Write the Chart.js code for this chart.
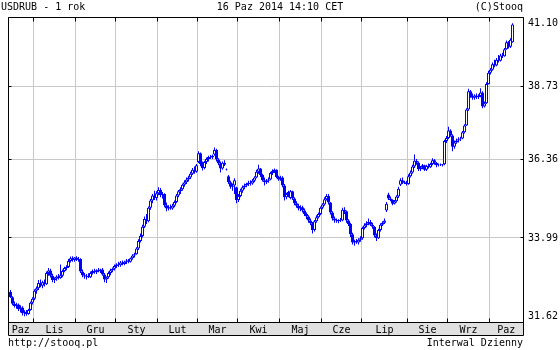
<!DOCTYPE html>
<html>
<head>
<meta charset="utf-8">
<script src="https://cdn.jsdelivr.net/npm/chart.js@4/dist/chart.umd.min.js"></script>
<style>
body { margin: 0; background: #fff; }
#wrap { position: relative; width: 560px; height: 350px; font: 10px 'DejaVu Sans Mono', monospace; color: #000; }
#wrap canvas { position: absolute; left: 0; top: 0; }
.t { position: absolute; white-space: pre; line-height: 12px; }
</style>
</head>
<body>
<div id="wrap">
  <canvas id="chart" width="560" height="350"></canvas>
  <div class="t" style="left:1px;top:1px">USDRUB - 1 rok</div>
  <div class="t" style="left:0;width:560px;text-align:center;top:1px">16 Paz 2014 14:10 CET</div>
  <div class="t" style="right:37px;top:1px">(C)Stooq</div>
  <div class="t" style="left:8px;top:337px">http://stooq.pl</div>
  <div class="t" style="right:37px;top:337px">Interwal Dzienny</div>
</div>
<script>
// month labels and where each month starts (trading-day index)
const monthNames = ['Paz', 'Lis', 'Gru', 'Sty', 'Lut', 'Mar', 'Kwi', 'Maj', 'Cze', 'Lip', 'Sie', 'Wrz', 'Paz'];
const monthStarts = [11.5, 32.5, 52.5, 73.5, 93.5, 113.5, 134.5, 155.5, 175.5, 198.5, 218.5, 239.5];
const yTicks = [31.62, 33.99, 36.36, 38.73, 41.10];

// daily USDRUB candles, Oct 2013 - Oct 2014
const open = [
    32.45, 32.30, 32.12, 32.06, 32.10, 31.97, 32.02, 31.86, 31.90, 31.84, 31.95, 32.15,
    32.26, 32.48, 32.55, 32.70, 32.62, 32.72, 32.66, 32.98, 33.05, 32.90, 32.78, 32.82, 32.88, 32.84, 32.90, 33.04, 33.12, 33.15, 33.32, 33.40, 33.35,
    33.42, 33.36, 33.38, 33.02, 32.92, 32.88, 32.90, 32.86, 32.98, 33.04, 33.00, 33.06, 33.03, 33.08, 32.94, 32.80, 32.86, 32.98, 33.06, 33.10,
    33.18, 33.22, 33.20, 33.28, 33.24, 33.30, 33.34, 33.30, 33.40, 33.48, 33.52, 33.68, 33.90, 34.05, 34.32, 34.55, 34.48, 34.88, 35.10, 35.25, 35.18,
    35.32, 35.42, 35.26, 35.30, 34.96, 34.86, 34.90, 34.86, 34.94, 35.06, 35.25, 35.38, 35.44, 35.58, 35.66, 35.74, 35.80, 35.92, 36.04, 35.98,
    36.28, 36.56, 36.22, 36.10, 36.28, 36.38, 36.44, 36.42, 36.52, 36.66, 36.36, 36.24, 36.08, 36.26, 36.06, 35.84, 35.66, 35.52, 35.56, 35.50,
    35.12, 35.24, 35.40, 35.50, 35.56, 35.60, 35.64, 35.62, 35.70, 35.80, 35.98, 36.08, 35.88, 35.72, 35.66, 35.70, 35.74, 35.94, 36.00, 36.04, 35.82,
    35.74, 35.80, 35.56, 35.20, 35.30, 35.18, 35.38, 35.16, 35.02, 34.94, 34.86, 34.90, 34.80, 34.70, 34.62, 34.50, 34.42, 34.22, 34.48, 34.60, 34.70,
    34.88, 34.98, 35.14, 35.24, 35.04, 34.74, 34.56, 34.50, 34.48, 34.52, 34.50, 34.82, 34.78, 34.50, 34.40, 34.10, 33.86, 33.90, 33.86, 33.94,
    33.98, 34.28, 34.36, 34.42, 34.46, 34.38, 34.32, 34.06, 33.98, 34.22, 34.38, 34.44, 34.80, 35.28, 35.16, 35.12, 35.00, 35.08, 35.22, 35.58, 35.72, 35.64, 35.66,
    35.60, 35.84, 35.96, 36.14, 36.32, 36.26, 36.06, 36.12, 36.18, 36.04, 36.16, 36.12, 36.22, 36.34, 36.26, 36.18, 36.20, 36.18, 36.21, 36.94,
    37.04, 37.28, 37.12, 36.76, 36.90, 36.96, 37.00, 37.02, 37.22, 37.44, 37.96, 38.56, 38.40, 38.34, 38.42, 38.36, 38.40, 38.52, 38.06, 38.16, 38.80,
    39.18, 39.28, 39.46, 39.42, 39.62, 39.58, 39.76, 39.74, 39.98, 40.22, 40.06, 40.22
];
const high = [
    32.50, 32.33, 32.18, 32.15, 32.13, 32.08, 32.05, 31.94, 31.95, 31.98, 32.18, 32.30,
    32.52, 32.60, 32.78, 32.80, 32.76, 32.80, 33.02, 33.12, 33.10, 32.96, 32.86, 32.92, 32.95, 33.22, 33.08, 33.16, 33.20, 33.38, 33.45, 33.46, 33.44,
    33.46, 33.44, 33.40, 33.08, 32.98, 32.95, 32.97, 33.02, 33.08, 33.10, 33.09, 33.12, 33.10, 33.12, 32.98, 32.88, 33.02, 33.10, 33.14, 33.22,
    33.26, 33.30, 33.32, 33.34, 33.33, 33.38, 33.38, 33.42, 33.52, 33.56, 33.72, 33.95, 34.12, 34.38, 34.62, 34.70, 34.92, 35.15, 35.30, 35.40, 35.38,
    35.50, 35.48, 35.36, 35.32, 35.04, 34.96, 34.98, 35.00, 35.10, 35.30, 35.42, 35.50, 35.62, 35.72, 35.80, 35.86, 35.98, 36.10, 36.14, 36.22,
    36.62, 36.58, 36.30, 36.32, 36.42, 36.48, 36.50, 36.52, 36.74, 36.70, 36.40, 36.30, 36.30, 36.34, 36.08, 35.88, 35.70, 35.62, 35.78, 35.52,
    35.30, 35.46, 35.56, 35.62, 35.64, 35.70, 35.72, 35.76, 35.84, 36.04, 36.20, 36.10, 35.92, 35.80, 35.76, 35.80, 35.98, 36.06, 36.08, 36.06, 35.86,
    35.86, 35.84, 35.60, 35.34, 35.40, 35.42, 35.40, 35.20, 35.08, 35.00, 34.96, 34.94, 34.86, 34.74, 34.66, 34.56, 34.46, 34.52, 34.66, 34.74, 34.92,
    35.02, 35.20, 35.30, 35.30, 35.06, 34.78, 34.62, 34.56, 34.54, 34.58, 34.88, 34.90, 34.80, 34.54, 34.44, 34.14, 33.94, 33.96, 33.98, 34.04,
    34.32, 34.42, 34.48, 34.56, 34.52, 34.44, 34.34, 34.12, 34.26, 34.42, 34.48, 34.56, 35.06, 35.34, 35.22, 35.14, 35.12, 35.26, 35.52, 35.78, 35.80, 35.70, 35.70,
    35.90, 36.02, 36.20, 36.52, 36.38, 36.30, 36.16, 36.22, 36.20, 36.20, 36.24, 36.26, 36.40, 36.38, 36.28, 36.24, 36.24, 36.22, 36.98, 37.10,
    37.40, 37.32, 37.16, 36.96, 37.02, 37.06, 37.08, 37.26, 37.48, 38.00, 38.64, 38.60, 38.48, 38.46, 38.48, 38.46, 38.66, 38.56, 38.22, 38.86, 39.24,
    39.34, 39.52, 39.62, 39.68, 39.78, 39.82, 39.86, 40.02, 40.28, 40.26, 40.36, 40.88
];
const low = [
    32.28, 32.08, 32.02, 31.98, 31.92, 31.88, 31.80, 31.78, 31.79, 31.82, 31.93, 32.10,
    32.22, 32.40, 32.50, 32.58, 32.55, 32.60, 32.64, 32.90, 32.85, 32.72, 32.70, 32.76, 32.80, 32.82, 32.86, 33.00, 33.06, 33.12, 33.28, 33.30, 33.30,
    33.32, 33.30, 32.98, 32.86, 32.82, 32.80, 32.84, 32.84, 32.94, 32.96, 32.95, 33.00, 32.98, 32.90, 32.72, 32.70, 32.82, 32.92, 33.00, 33.05,
    33.12, 33.15, 33.16, 33.20, 33.20, 33.24, 33.26, 33.28, 33.36, 33.42, 33.50, 33.64, 33.86, 34.00, 34.28, 34.40, 34.45, 34.82, 35.02, 35.12, 35.10,
    35.26, 35.20, 35.16, 34.90, 34.78, 34.80, 34.82, 34.82, 34.90, 35.02, 35.20, 35.30, 35.40, 35.52, 35.60, 35.68, 35.76, 35.88, 35.92, 35.95,
    36.25, 36.15, 36.02, 36.06, 36.22, 36.30, 36.38, 36.38, 36.48, 36.30, 36.18, 35.96, 36.04, 36.16, 36.02, 35.60, 35.46, 35.40, 35.30, 35.02,
    35.06, 35.20, 35.34, 35.44, 35.50, 35.54, 35.56, 35.58, 35.66, 35.78, 35.92, 35.82, 35.68, 35.56, 35.60, 35.64, 35.72, 35.88, 35.94, 35.78, 35.70,
    35.70, 35.50, 35.10, 35.14, 35.20, 35.14, 35.12, 34.96, 34.88, 34.80, 34.78, 34.74, 34.64, 34.54, 34.44, 34.36, 34.12, 34.18, 34.44, 34.56, 34.66,
    34.84, 34.94, 35.10, 34.98, 34.68, 34.50, 34.44, 34.44, 34.42, 34.46, 34.48, 34.70, 34.44, 34.34, 34.02, 33.80, 33.76, 33.82, 33.80, 33.88,
    33.94, 34.24, 34.30, 34.36, 34.34, 34.26, 34.00, 33.90, 33.96, 34.18, 34.34, 34.40, 34.76, 35.12, 35.08, 34.96, 34.98, 35.04, 35.18, 35.54, 35.60, 35.60, 35.56,
    35.58, 35.80, 35.92, 36.10, 36.20, 36.00, 36.00, 36.06, 36.00, 36.00, 36.08, 36.10, 36.18, 36.20, 36.12, 36.14, 36.16, 36.14, 36.18, 36.88,
    37.00, 37.08, 36.62, 36.70, 36.86, 36.90, 36.94, 37.00, 37.18, 37.42, 37.92, 38.34, 38.28, 38.28, 38.30, 38.30, 38.36, 38.00, 38.02, 38.14, 38.78,
    39.12, 39.24, 39.36, 39.40, 39.52, 39.56, 39.68, 39.72, 39.96, 40.00, 40.02, 40.20
];
const close = [
    32.30, 32.12, 32.06, 32.10, 31.97, 32.02, 31.86, 31.90, 31.84, 31.95, 32.15, 32.26,
    32.48, 32.55, 32.70, 32.62, 32.72, 32.66, 32.98, 33.05, 32.90, 32.78, 32.82, 32.88, 32.84, 32.92, 33.04, 33.12, 33.15, 33.32, 33.40, 33.35, 33.42,
    33.36, 33.38, 33.02, 32.92, 32.88, 32.90, 32.86, 32.98, 33.04, 33.00, 33.06, 33.03, 33.08, 32.94, 32.80, 32.86, 32.98, 33.06, 33.10, 33.18,
    33.22, 33.20, 33.28, 33.24, 33.30, 33.34, 33.30, 33.40, 33.48, 33.52, 33.68, 33.90, 34.05, 34.32, 34.55, 34.48, 34.88, 35.10, 35.25, 35.18, 35.32,
    35.42, 35.26, 35.30, 34.96, 34.86, 34.90, 34.86, 34.94, 35.06, 35.25, 35.38, 35.44, 35.58, 35.66, 35.74, 35.80, 35.92, 36.04, 35.98, 36.18,
    36.56, 36.22, 36.10, 36.28, 36.38, 36.44, 36.42, 36.48, 36.66, 36.36, 36.24, 36.08, 36.26, 36.20, 36.04, 35.66, 35.52, 35.56, 35.72, 35.12,
    35.24, 35.40, 35.50, 35.56, 35.60, 35.64, 35.62, 35.70, 35.80, 35.98, 36.08, 35.88, 35.72, 35.66, 35.70, 35.74, 35.94, 36.00, 36.04, 35.82, 35.74,
    35.80, 35.56, 35.20, 35.30, 35.36, 35.38, 35.16, 35.02, 34.94, 34.86, 34.90, 34.80, 34.70, 34.62, 34.50, 34.42, 34.22, 34.48, 34.60, 34.70, 34.88,
    34.98, 35.14, 35.24, 35.04, 34.74, 34.56, 34.50, 34.48, 34.52, 34.50, 34.82, 34.78, 34.50, 34.40, 34.10, 33.86, 33.90, 33.86, 33.94, 33.98,
    34.28, 34.36, 34.42, 34.46, 34.38, 34.32, 34.06, 33.98, 34.22, 34.38, 34.44, 34.50, 35.00, 35.16, 35.12, 35.00, 35.08, 35.22, 35.46, 35.72, 35.64, 35.66, 35.60,
    35.84, 35.96, 36.14, 36.32, 36.26, 36.06, 36.12, 36.18, 36.04, 36.16, 36.12, 36.22, 36.34, 36.26, 36.18, 36.20, 36.18, 36.21, 36.94, 37.04,
    37.28, 37.12, 36.76, 36.90, 36.96, 37.00, 37.02, 37.22, 37.44, 37.96, 38.56, 38.40, 38.34, 38.42, 38.36, 38.40, 38.52, 38.06, 38.16, 38.80, 39.18,
    39.28, 39.46, 39.42, 39.62, 39.58, 39.76, 39.74, 39.98, 40.22, 40.06, 40.30, 40.84
];

const BLUE = '#0000ff';
const GRID = '#c8c8c8';
const FONT = "'DejaVu Sans Mono', monospace";
const xMin = -1.25, xMax = 256.25;

Chart.defaults.font.family = FONT;
Chart.defaults.font.size = 10;
Chart.defaults.color = '#000';

const bodies = open.map((o, i) => ({ x: i, y: [o, close[i]] }));
const wicks = low.map((l, i) => ({ x: i, y: [l, high[i]] }));

// month names sit halfway between the month boundaries
const edges = [xMin, ...monthStarts, xMax];
const labelPos = monthNames.map((_, i) => (edges[i] + edges[i + 1]) / 2);

// grey band under the plot, black frame and the little inward ticks
const framePlugin = {
    id: 'frame',
    beforeDraw(chart) {
        const a = chart.chartArea, ctx = chart.ctx;
        ctx.save();
        ctx.fillStyle = '#e0e0e0';
        ctx.fillRect(a.left, a.bottom, a.right - a.left, 13);
        ctx.restore();
    },
    afterDraw(chart) {
        const a = chart.chartArea, ctx = chart.ctx;
        const xs = chart.scales.x, ys = chart.scales.y;
        const L = a.left + 0.5, R = a.right + 0.5, T = a.top + 0.5, B = a.bottom + 0.5, B2 = a.bottom + 13.5;
        ctx.save();
        ctx.strokeStyle = '#000';
        ctx.lineWidth = 1;
        ctx.beginPath();
        ctx.rect(L, T, R - L, B2 - T);
        ctx.moveTo(L, B); ctx.lineTo(R, B);
        monthStarts.forEach(v => {
            const px = Math.floor(xs.getPixelForValue(v)) + 0.5;
            ctx.moveTo(px, T); ctx.lineTo(px, T + 4);
            ctx.moveTo(px, B); ctx.lineTo(px, B - 4);
        });
        yTicks.forEach(v => {
            const py = Math.floor(ys.getPixelForValue(v)) + 0.5;
            ctx.moveTo(L, py); ctx.lineTo(L + 3, py);
            ctx.moveTo(R, py); ctx.lineTo(R - 3, py);
        });
        ctx.stroke();
        ctx.restore();
    }
};

new Chart(document.getElementById('chart'), {
    type: 'bar',
    data: {
        datasets: [
            {
                data: bodies,
                order: 0,
                grouped: false,
                barThickness: 3,
                backgroundColor: bodies.map(b => b.y[1] >= b.y[0] ? '#ffffff' : BLUE),
                borderColor: BLUE,
                borderWidth: 1,
                borderSkipped: false,
                inflateAmount: 0,
            },
            {
                data: wicks,
                order: 1,
                grouped: false,
                barThickness: 1,
                backgroundColor: BLUE,
                borderWidth: 0,
                inflateAmount: 0,
            }
        ]
    },
    options: {
        responsive: false,
        animation: false,
        layout: { padding: { left: 8, top: 16, right: 0, bottom: 15 } },
        plugins: {
            legend: { display: false },
            tooltip: { enabled: false }
        },
        scales: {
            x: {
                type: 'linear',
                min: xMin,
                max: xMax,
                offset: false,
                afterBuildTicks: s => { s.ticks = monthStarts.map(v => ({ value: v })); },
                afterFit: s => { s.height = 0; },
                ticks: { display: false },
                grid: { color: GRID, drawTicks: false, offset: false },
                border: { display: false }
            },
            xm: {
                type: 'linear',
                position: 'bottom',
                min: xMin,
                max: xMax,
                offset: false,
                afterBuildTicks: s => { s.ticks = labelPos.map(v => ({ value: v })); },
                afterFit: s => { s.height = 13; },
                ticks: {
                    autoSkip: false,
                    maxRotation: 0,
                    padding: 2,
                    color: '#000',
                    callback: (v, i) => monthNames[i]
                },
                grid: { display: false, drawTicks: false },
                border: { display: false }
            },
            y: {
                type: 'logarithmic',
                position: 'right',
                min: 31.62,
                max: 41.10,
                afterBuildTicks: s => { s.ticks = yTicks.map(v => ({ value: v })); },
                afterFit: s => { s.width = 37; },
                ticks: {
                    autoSkip: false,
                    padding: 5,
                    color: '#000',
                    // nudge the edge labels inward like the original
                    callback: (v, i) => {
                        const t = yTicks[i].toFixed(2);
                        if (i === yTicks.length - 1) return ['', t];
                        if (i === 0) return [t, ''];
                        return t;
                    }
                },
                grid: { color: GRID, drawTicks: false },
                border: { display: false }
            }
        }
    },
    plugins: [framePlugin]
});
</script>
</body>
</html>
